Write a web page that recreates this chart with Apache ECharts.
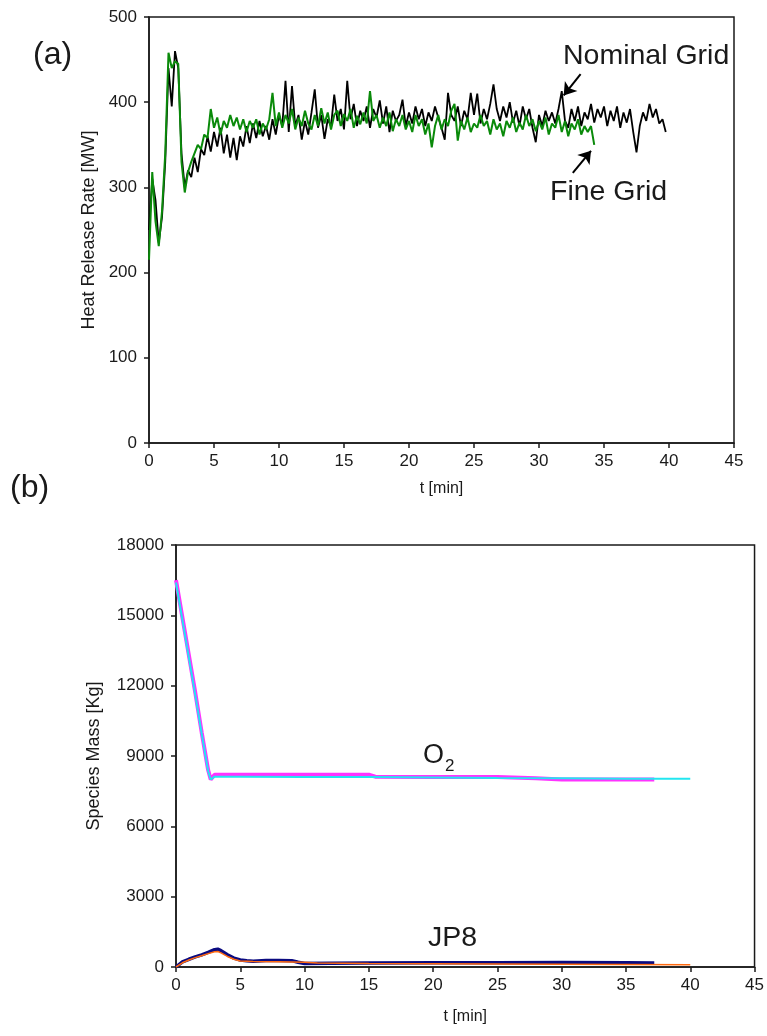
<!DOCTYPE html>
<html>
<head>
<meta charset="utf-8">
<script src="https://cdn.jsdelivr.net/npm/echarts@6/dist/echarts.min.js"></script>
<style>
  html, body { margin: 0; padding: 0; background: #fff; }
  #chart { width: 767px; height: 1036px; }
</style>
</head>
<body>
<div id="chart"></div>
<script>
// ---- (a) heat release rate, sampled every 0.25 min ----
const HRR_STEP = 0.25;
const nominalGridHrr = [
  250, 310, 285, 235, 265, 330, 440, 395, 460, 440, 340, 300, 320,
  312, 335, 318, 345, 338, 360, 342, 365, 348, 370, 340, 362, 335, 358, 332, 360, 348, 372, 352, 375, 358, 378, 360, 372, 356,
  380, 362, 385, 372, 425, 365, 419, 372, 385, 356, 378, 362, 388, 415, 370, 385, 357, 380, 372, 409, 378, 392, 368, 425, 380,
  398, 372, 390, 378, 395, 370, 392, 382, 402, 375, 395, 365, 390, 378, 385, 403, 372,
  388, 375, 395, 380, 392, 372, 388, 378, 395, 382, 370, 356, 411, 385, 378, 395, 372, 390, 380, 411, 385, 410, 375, 392, 380,
  398, 421, 392, 378, 395, 382, 400, 376, 390, 372, 395, 380, 392, 370, 353,
  385, 372, 390, 378, 388, 375, 392, 413, 378, 370, 392, 378, 395, 372, 388, 380, 398, 376, 392, 382,
  395, 372, 390, 378, 395, 370, 388, 376, 392, 365, 341, 372, 388, 378, 398, 382, 392, 375, 380, 365
];
const fineGridHrr = [
  215, 318, 260, 231, 272, 340, 458, 440, 448, 445, 330, 294, 318,
  330, 340, 350, 345, 362, 358, 392, 370, 382, 362, 378, 370, 385, 372, 382, 368, 380, 365, 378, 370, 380, 362, 375, 368,
  380, 411, 372, 388, 370, 385, 375, 392, 368, 382, 372, 390, 375, 368, 385, 372, 393, 375, 388, 368, 385, 390, 372, 386, 378,
  392, 370, 384, 374, 388, 375, 413, 378, 385, 370, 382, 372, 388, 366, 380, 372, 385, 368,
  378, 365, 385, 372, 380, 362, 375, 347, 372, 385, 368, 380, 372, 390, 398, 355, 378, 368, 382, 365, 375, 370, 385, 372, 378,
  362, 380, 368, 375, 360, 378, 370, 382, 365, 376, 368, 385, 372, 380, 366,
  378, 368, 382, 362, 375, 370, 385, 365, 378, 360, 375, 368, 380, 362, 372, 365, 372, 350
];

// ---- (b) species mass ----
const o2aTime  = [0, 0.5, 1, 1.5, 2, 2.5, 2.7, 3, 5, 10, 15, 15.5, 20, 25, 28, 30, 35, 37.2];
const o2aMass  = [16500, 14900, 13300, 11700, 10000, 8400, 8000, 8200, 8200, 8200, 8200, 8120, 8100, 8100, 8050, 8000, 8000, 8000];
const o2bTime  = [0, 0.5, 1, 1.5, 2, 2.5, 2.7, 3, 5, 10, 15, 20, 25, 30, 35, 40];
const o2bMass  = [16400, 14800, 13200, 11600, 9950, 8350, 8000, 8120, 8120, 8100, 8100, 8080, 8060, 8050, 8030, 8030];
const jp8aTime = [0, 0.5, 1, 1.5, 2, 2.5, 3, 3.25, 3.5, 4, 4.5, 5, 5.5, 6, 7, 8, 9, 9.5, 10, 12, 15, 20, 25, 30, 35, 37.2];
const jp8aMass = [0, 220, 330, 430, 520, 620, 740, 760, 700, 520, 380, 300, 270, 250, 280, 280, 270, 200, 150, 160, 170, 180, 180, 190, 180, 170];
const jp8bTime = [0, 0.5, 1, 1.5, 2, 2.5, 3, 3.25, 3.5, 4, 4.5, 5, 6, 8, 10, 11, 15, 20, 25, 30, 35, 40];
const jp8bMass = [0, 180, 300, 400, 480, 570, 650, 660, 600, 450, 330, 260, 230, 220, 200, 170, 150, 140, 130, 120, 110, 100];

// tick values
const timeTicks = { min: 0, max: 45, interval: 5 };
const hrrTicks  = { min: 0, max: 500, interval: 100 };
const massTicks = { min: 0, max: 18000, interval: 3000 };

const pairs = (ts, vs) => ts.map((t, i) => [t, vs[i]]);
const stepped = (vs) => vs.map((v, i) => [i * HRR_STEP, v]);

const FONT = '"Liberation Sans", Arial, sans-serif';
const INK = '#1a1a1a';

function valueAxis(gridIndex, ticks, name, nameGap, vertical) {
  return {
    type: 'value', gridIndex,
    min: ticks.min, max: ticks.max, interval: ticks.interval,
    name, nameLocation: 'middle', nameGap,
    nameRotate: vertical ? 90 : 0,
    nameTextStyle: { fontFamily: FONT, fontSize: vertical ? 18 : 16, color: INK },
    axisLine: { show: true, onZero: false, lineStyle: { color: INK, width: 1.5 } },
    axisTick: { show: true, inside: false, length: 5, lineStyle: { color: INK, width: 1.5 } },
    axisLabel: {
      fontFamily: FONT, fontSize: 17, color: INK, margin: vertical ? 12 : 10,
      formatter: (v) => String(v)
    },
    splitLine: { show: false }
  };
}

const chart = echarts.init(document.getElementById('chart'), null, { renderer: 'canvas' });

chart.setOption({
  animation: false,
  backgroundColor: '#fff',
  grid: [
    { left: 149, top: 17, width: 585, height: 426, show: true, borderColor: INK, borderWidth: 1.5 },
    { left: 176, top: 545, width: 580, height: 422, show: true, borderColor: INK, borderWidth: 1.5 }
  ],
  xAxis: [
    valueAxis(0, timeTicks, 't [min]', 38, false),
    valueAxis(1, timeTicks, 't [min]', 42, false)
  ],
  yAxis: [
    valueAxis(0, hrrTicks, 'Heat Release Rate [MW]', 49, true),
    valueAxis(1, massTicks, 'Species Mass [Kg]', 73, true)
  ],
  series: [
    {
      name: 'Nominal Grid', type: 'line', xAxisIndex: 0, yAxisIndex: 0,
      data: stepped(nominalGridHrr), showSymbol: false,
      lineStyle: { color: '#000', width: 1.8 },
      markLine: {
        silent: true, symbol: ['none', 'arrow'], symbolSize: 12,
        lineStyle: { color: '#000', width: 2, type: 'solid' },
        label: { show: false },
        data: [[{ coord: [33.2, 433] }, { coord: [31.9, 408] }]]
      }
    },
    {
      name: 'Fine Grid', type: 'line', xAxisIndex: 0, yAxisIndex: 0,
      data: stepped(fineGridHrr), showSymbol: false,
      lineStyle: { color: '#0a8a0a', width: 2 },
      markLine: {
        silent: true, symbol: ['none', 'arrow'], symbolSize: 12,
        lineStyle: { color: '#000', width: 2, type: 'solid' },
        label: { show: false },
        data: [[{ coord: [32.6, 317] }, { coord: [34.0, 343] }]]
      }
    },
    {
      name: 'O2 a', type: 'line', xAxisIndex: 1, yAxisIndex: 1,
      data: pairs(o2aTime, o2aMass), showSymbol: false,
      lineStyle: { color: '#ff33ff', width: 4 }
    },
    {
      name: 'O2 b', type: 'line', xAxisIndex: 1, yAxisIndex: 1,
      data: pairs(o2bTime, o2bMass), showSymbol: false,
      lineStyle: { color: '#22e6f0', width: 2 }
    },
    {
      name: 'JP8 a', type: 'line', xAxisIndex: 1, yAxisIndex: 1,
      data: pairs(jp8aTime, jp8aMass), showSymbol: false,
      lineStyle: { color: '#0a0a80', width: 3.5 }
    },
    {
      name: 'JP8 b', type: 'line', xAxisIndex: 1, yAxisIndex: 1,
      data: pairs(jp8bTime, jp8bMass), showSymbol: false,
      lineStyle: { color: '#ff6a10', width: 1.5 }
    }
  ],
  graphic: [
    { type: 'text', left: 33, top: 39, style: { text: '(a)', font: '32px ' + FONT, fill: INK } },
    { type: 'text', left: 10, top: 472, style: { text: '(b)', font: '32px ' + FONT, fill: INK } },
    { type: 'text', left: 563, top: 42, style: { text: 'Nominal Grid', font: '28.5px ' + FONT, fill: INK } },
    { type: 'text', left: 550, top: 178, style: { text: 'Fine Grid', font: '28.5px ' + FONT, fill: INK } },
    { type: 'text', left: 423, top: 742, style: { text: 'O', font: '27px ' + FONT, fill: INK } },
    { type: 'text', left: 445, top: 758, style: { text: '2', font: '17px ' + FONT, fill: INK } },
    { type: 'text', left: 428, top: 924, style: { text: 'JP8', font: '28.5px ' + FONT, fill: INK } }
  ]
});
</script>
</body>
</html>
